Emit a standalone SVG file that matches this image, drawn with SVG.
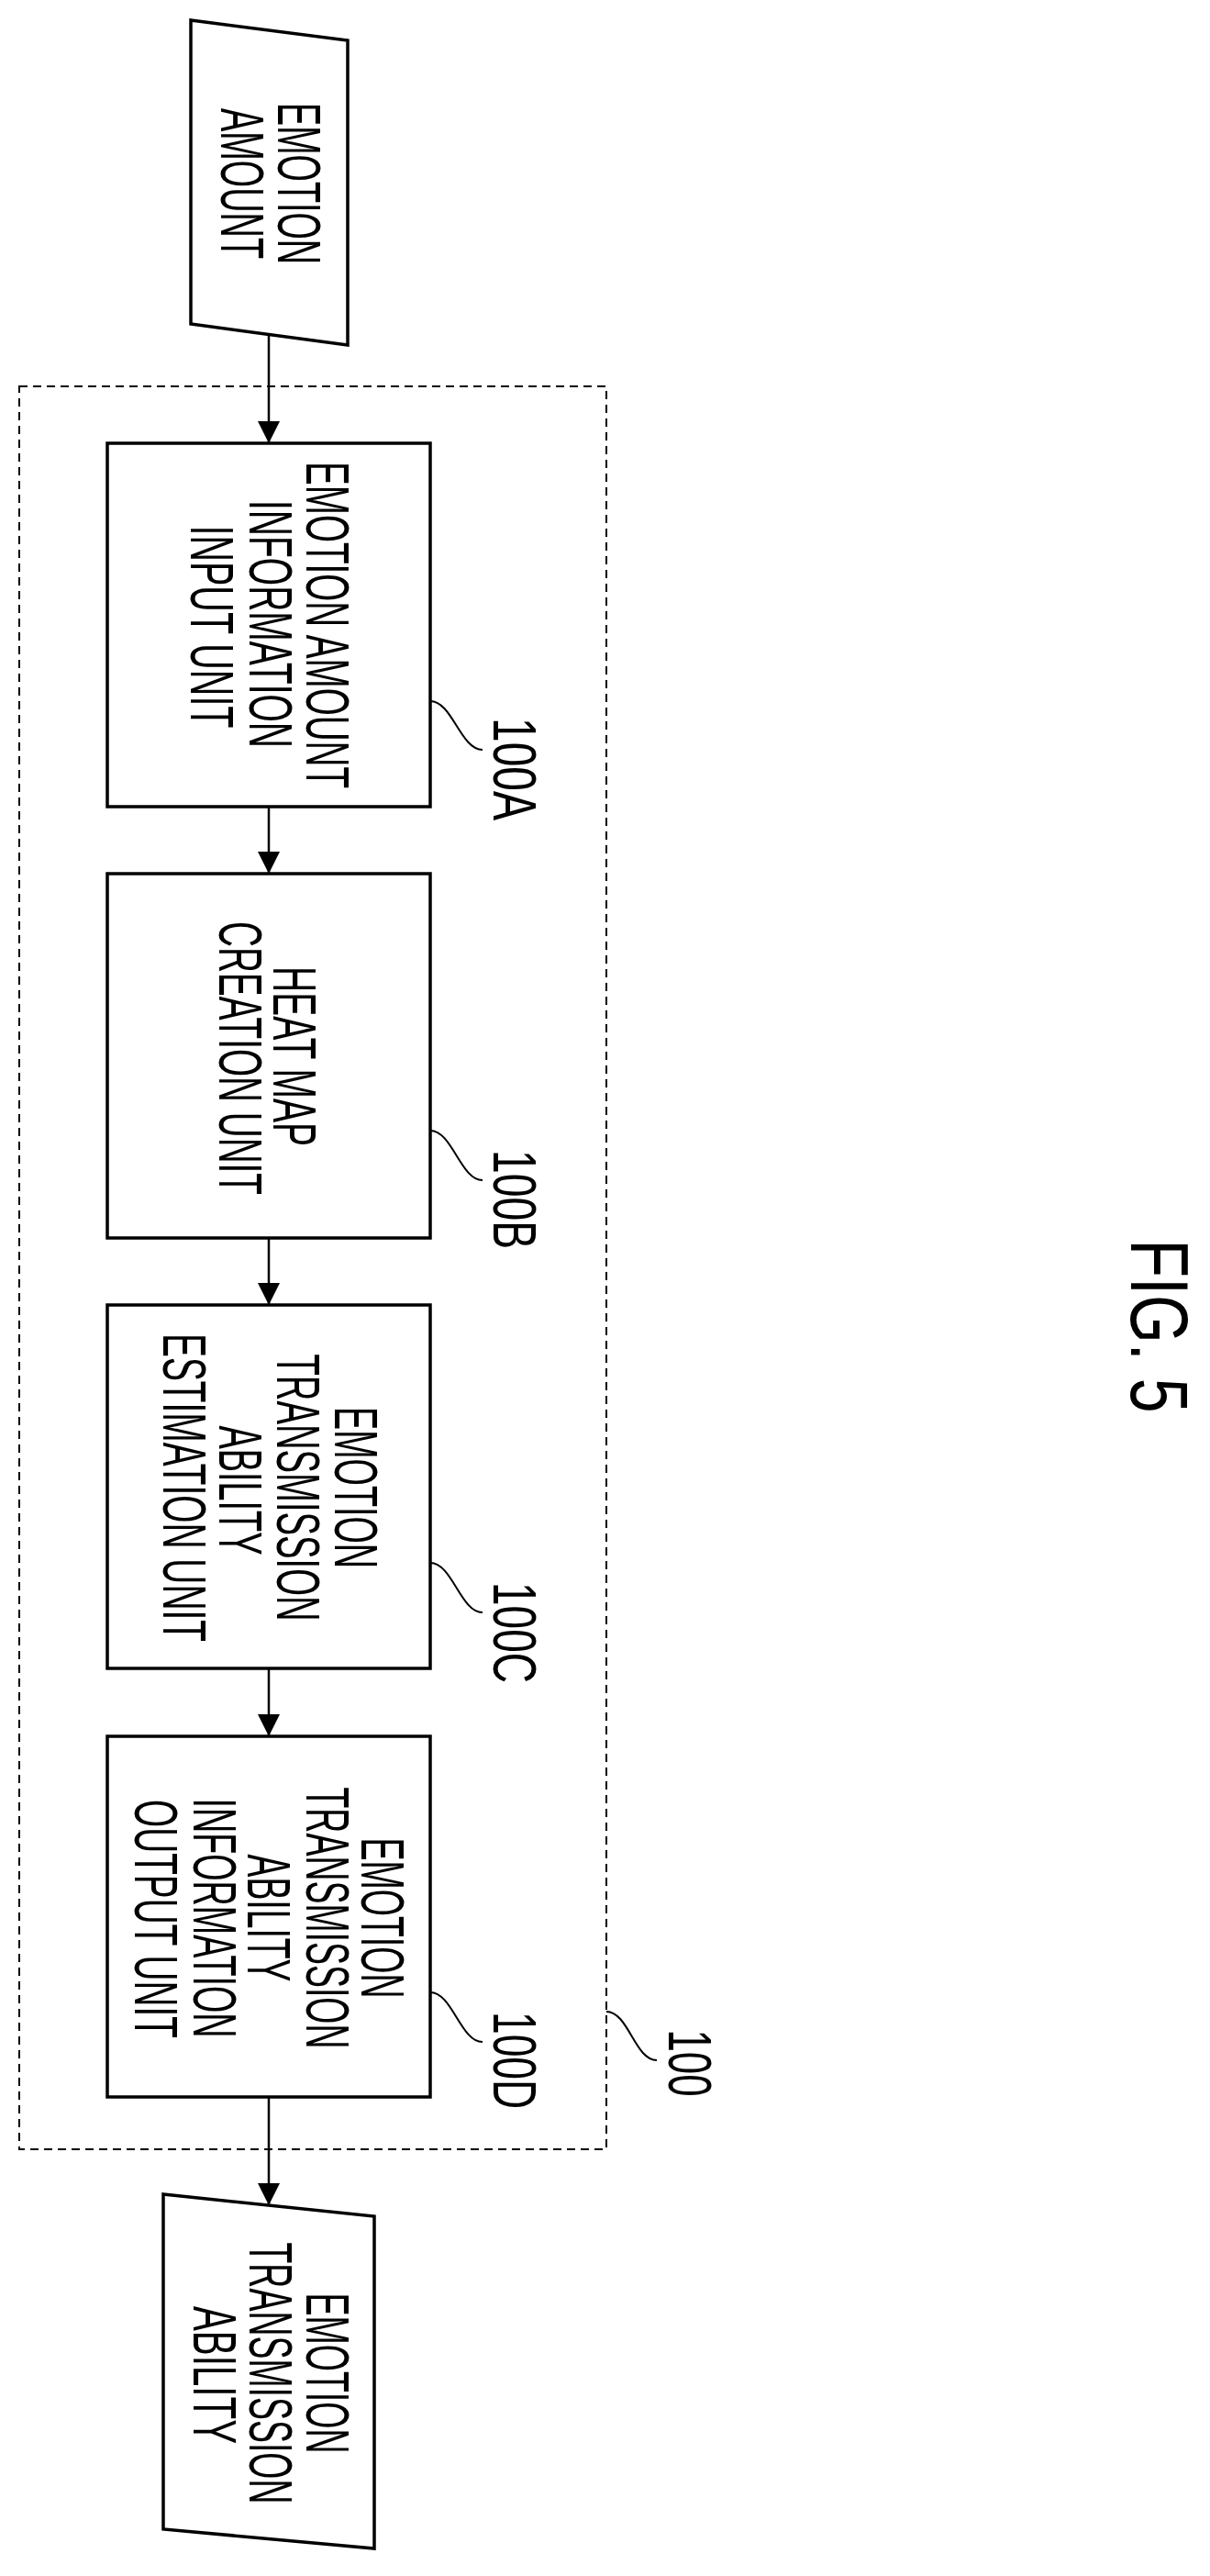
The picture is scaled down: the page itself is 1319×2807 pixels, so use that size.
<svg xmlns="http://www.w3.org/2000/svg" width="1319" height="2807" viewBox="0 0 1319 2807">
<style>
.box{fill:#fff;stroke:#000;stroke-width:3.5}
.t{font-family:"Liberation Sans",Arial,sans-serif;font-size:66px;fill:#000;text-anchor:middle}
.c{fill:none;stroke:#000;stroke-width:2.5}
.l{fill:none;stroke:#000;stroke-width:2}
</style>
<defs><marker id="ah" markerWidth="24" markerHeight="26" refX="24" refY="12" orient="auto" markerUnits="userSpaceOnUse"><path d="M0,0 L24,12 L0,24 Z" fill="#000"/></marker></defs>
<rect width="1319" height="2807" fill="#fff"/>
<g id="container100"><rect x="21" y="421" width="640" height="1921" fill="none" stroke="#000" stroke-width="2" stroke-dasharray="9,6"/>
<path class="l" d="M661,2192 C685,2192 692,2245 716,2245"/>
<text class="t" lengthAdjust="spacingAndGlyphs" textLength="73" transform="translate(729,2248) rotate(90)">100</text></g>
<g id="connectors">
<line class="c" x1="293" y1="364" x2="293" y2="483" marker-end="url(#ah)"/>
<line class="c" x1="293" y1="879" x2="293" y2="952" marker-end="url(#ah)"/>
<line class="c" x1="293" y1="1349" x2="293" y2="1422" marker-end="url(#ah)"/>
<line class="c" x1="293" y1="1818" x2="293" y2="1892" marker-end="url(#ah)"/>
<line class="c" x1="293" y1="2285" x2="293" y2="2403" marker-end="url(#ah)"/>
</g>
<g id="input"><polygon class="box" points="208,22 379,44 379,376 208,353"/>
<text class="t" lengthAdjust="spacingAndGlyphs" textLength="176" transform="translate(303,200) rotate(90)">EMOTION</text>
<text class="t" lengthAdjust="spacingAndGlyphs" textLength="164" transform="translate(241,200) rotate(90)">AMOUNT</text></g>
<g id="n100A"><rect class="box" x="117" y="483" width="352" height="396"/>
<text class="t" lengthAdjust="spacingAndGlyphs" textLength="356" transform="translate(334,681) rotate(90)">EMOTION AMOUNT</text>
<text class="t" lengthAdjust="spacingAndGlyphs" textLength="270" transform="translate(272,680) rotate(90)">INFORMATION</text>
<text class="t" lengthAdjust="spacingAndGlyphs" textLength="221" transform="translate(208,683) rotate(90)">INPUT UNIT</text>
<path class="l" d="M469,764 C493,764 502,817 526,817"/>
<text class="t" lengthAdjust="spacingAndGlyphs" textLength="112" transform="translate(538,838) rotate(90)">100A</text></g>
<g id="n100B"><rect class="box" x="117" y="952" width="352" height="397"/>
<text class="t" lengthAdjust="spacingAndGlyphs" textLength="196" transform="translate(298,1151) rotate(90)">HEAT MAP</text>
<text class="t" lengthAdjust="spacingAndGlyphs" textLength="298" transform="translate(239,1153) rotate(90)">CREATION UNIT</text>
<path class="l" d="M469,1232 C493,1232 502,1286 526,1286"/>
<text class="t" lengthAdjust="spacingAndGlyphs" textLength="108" transform="translate(538,1307) rotate(90)">100B</text></g>
<g id="n100C"><rect class="box" x="117" y="1422" width="352" height="396"/>
<text class="t" lengthAdjust="spacingAndGlyphs" textLength="176" transform="translate(365,1621) rotate(90)">EMOTION</text>
<text class="t" lengthAdjust="spacingAndGlyphs" textLength="291" transform="translate(302,1621) rotate(90)">TRANSMISSION</text>
<text class="t" lengthAdjust="spacingAndGlyphs" textLength="141" transform="translate(239,1624) rotate(90)">ABILITY</text>
<text class="t" lengthAdjust="spacingAndGlyphs" textLength="336" transform="translate(178,1621) rotate(90)">ESTIMATION UNIT</text>
<path class="l" d="M469,1703 C493,1703 502,1757 526,1757"/>
<text class="t" lengthAdjust="spacingAndGlyphs" textLength="110" transform="translate(538,1779) rotate(90)">100C</text></g>
<g id="n100D"><rect class="box" x="117" y="1892" width="352" height="393"/>
<text class="t" lengthAdjust="spacingAndGlyphs" textLength="175" transform="translate(394,2090) rotate(90)">EMOTION</text>
<text class="t" lengthAdjust="spacingAndGlyphs" textLength="285" transform="translate(334,2090) rotate(90)">TRANSMISSION</text>
<text class="t" lengthAdjust="spacingAndGlyphs" textLength="139" transform="translate(270,2090) rotate(90)">ABILITY</text>
<text class="t" lengthAdjust="spacingAndGlyphs" textLength="261" transform="translate(211,2090) rotate(90)">INFORMATION</text>
<text class="t" lengthAdjust="spacingAndGlyphs" textLength="260" transform="translate(147,2091) rotate(90)">OUTPUT UNIT</text>
<path class="l" d="M469,2171 C493,2171 502,2225 526,2225"/>
<text class="t" lengthAdjust="spacingAndGlyphs" textLength="106" transform="translate(538,2245) rotate(90)">100D</text></g>
<g id="output"><polygon class="box" points="178,2391 408,2415 408,2777 178,2756"/>
<text class="t" lengthAdjust="spacingAndGlyphs" textLength="175" transform="translate(334,2586) rotate(90)">EMOTION</text>
<text class="t" lengthAdjust="spacingAndGlyphs" textLength="285" transform="translate(272,2586) rotate(90)">TRANSMISSION</text>
<text class="t" lengthAdjust="spacingAndGlyphs" textLength="150" transform="translate(211,2588) rotate(90)">ABILITY</text></g>
<g id="caption"><text class="t" lengthAdjust="spacingAndGlyphs" textLength="189" transform="translate(1233,1445) rotate(90)" style="font-size:89px">FIG. 5</text></g>
</svg>
